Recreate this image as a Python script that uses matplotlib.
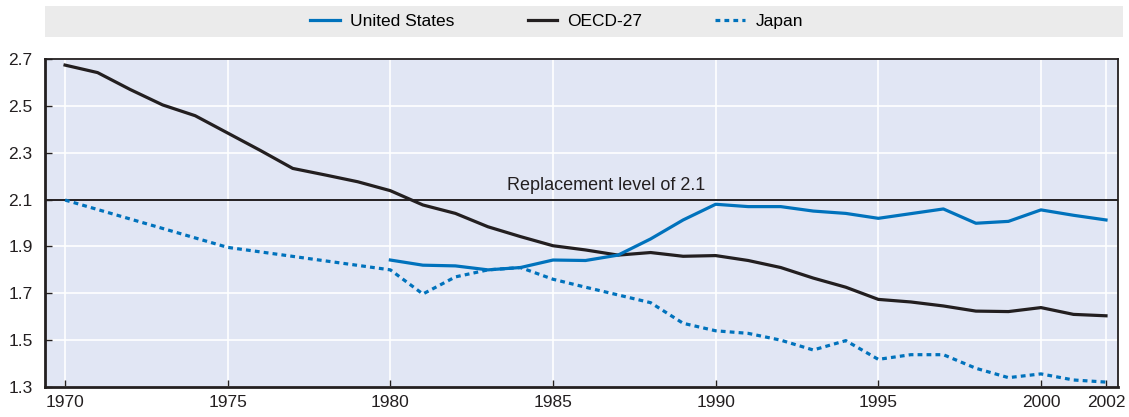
import matplotlib.pyplot as plt
from matplotlib.patches import Rectangle
from matplotlib.lines import Line2D

plt.rcParams['font.family'] = ['Liberation Sans', 'DejaVu Sans']

# Data
oecd_years = list(range(1970, 2003))
oecd = [2.674, 2.642, 2.57, 2.504, 2.458, 2.384, 2.31, 2.233, 2.205, 2.176, 2.138,
        2.077, 2.041, 1.984, 1.942, 1.903, 1.885, 1.863, 1.874, 1.858, 1.861,
        1.84, 1.81, 1.765, 1.726, 1.674, 1.663, 1.646, 1.624, 1.622, 1.639, 1.61, 1.604]

us_years = list(range(1980, 2003))
us = [1.842, 1.82, 1.817, 1.80, 1.81, 1.842, 1.84, 1.863, 1.932, 2.013, 2.08,
      2.07, 2.07, 2.051, 2.041, 2.02, 2.04, 2.06, 1.999, 2.007, 2.056, 2.033, 2.013]

japan_years = [1970, 1975, 1980] + list(range(1981, 2003))
japan = [2.098, 1.896, 1.80, 1.697, 1.77, 1.80, 1.81, 1.76, 1.726, 1.693, 1.66,
         1.572, 1.54, 1.529, 1.50, 1.458, 1.498, 1.418, 1.438, 1.438, 1.38, 1.34,
         1.356, 1.33, 1.321]

x_ticks = [1970, 1975, 1980, 1985, 1990, 1995, 2000, 2002]
y_ticks = [1.3, 1.5, 1.7, 1.9, 2.1, 2.3, 2.5, 2.7]
replacement = 2.1

blue = '#0072bc'
black = '#231f20'
fs = 12.5

fig = plt.figure(figsize=(11.29, 4.17), dpi=100)
ax = fig.add_axes([0.0399, 0.0719, 0.9504, 0.7866])
ax.set_facecolor('#e1e6f4')

# legend band at top
fig.patches.append(Rectangle((0.0399, 0.911), 0.955, 0.075, transform=fig.transFigure,
                             facecolor='#ebebeb', edgecolor='none', zorder=0))

ax.plot(us_years, us, color=blue, lw=2.3, zorder=4)
ax.plot(oecd_years, oecd, color=black, lw=2.3, zorder=3)
ax.plot(japan_years, japan, color=blue, lw=2.3, linestyle=(0, (1.5, 1.3)), zorder=4)

ax.axhline(replacement, color=black, lw=1.4, zorder=2)
ax.text(1983.6, replacement + 0.025, 'Replacement level of 2.1', fontsize=fs + 0.5,
        color=black, ha='left', va='bottom')

ax.set_xlim(1969.385, 2002.37)
ax.set_ylim(1.3, 2.7)
ax.set_xticks(x_ticks)
ax.set_yticks(y_ticks)
ax.set_yticklabels([f'{v:.1f}' for v in y_ticks])
ax.grid(True, color='white', lw=1.2, zorder=1)
ax.set_axisbelow(True)
ax.tick_params(direction='in', length=5, width=1, labelsize=fs, colors=black)
ax.tick_params(axis='x', pad=6)
ax.tick_params(axis='y', pad=9)

for side in ['left', 'bottom']:
    ax.spines[side].set_linewidth(2)
    ax.spines[side].set_color(black)
for side in ['top', 'right']:
    ax.spines[side].set_linewidth(1.3)
    ax.spines[side].set_color(black)

handles = [Line2D([], [], color=blue, lw=2.3),
           Line2D([], [], color=black, lw=2.3),
           Line2D([], [], color=blue, lw=2.3, linestyle=(0, (1.5, 1.3)))]
fig.legend(handles, ['United States', 'OECD-27', 'Japan'], loc='center',
           bbox_to_anchor=(0.493, 0.949), ncol=3, frameon=False, fontsize=fs,
           handlelength=1.7, handletextpad=0.6, columnspacing=4.2)

fig.savefig('out.png', dpi=100)
